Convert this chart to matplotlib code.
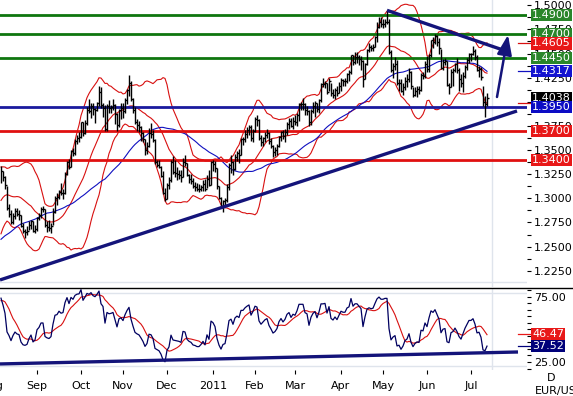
import numpy as np
import pandas as pd
import matplotlib
matplotlib.use("Agg")
import matplotlib.pyplot as plt
from matplotlib import transforms
from matplotlib.lines import Line2D

# ---- EUR/USD daily data ----
# closes before the visible window (indicator warm-up only), from 2010-05-20
warmup_close = [1.2560, 1.2570, 1.2370, 1.2360, 1.2200, 1.2370, 1.2270, 1.2300,
                1.2230, 1.2230, 1.2160, 1.1970, 1.1920, 1.1980, 1.2000, 1.2100, 1.2110, 1.2280, 1.2330,
                1.2340, 1.2390, 1.2380, 1.2290, 1.2270, 1.2300, 1.2320, 1.2380, 1.2260, 1.2190, 1.2230,
                1.2520, 1.2570, 1.2560, 1.2630, 1.2620, 1.2700, 1.2640, 1.2610, 1.2730, 1.2750, 1.2940,
                1.2940, 1.2940, 1.2890, 1.2780, 1.2900, 1.2920, 1.2990, 1.3000, 1.3030, 1.3060, 1.3050,
                1.3190, 1.3230, 1.3150, 1.3190]

# visible bars, 2010-08-06 .. 2011-07-13
high = [
    # Aug
    1.3333, 1.3280, 1.3230, 1.3130, 1.2940, 1.2880, 1.2850, 1.2900, 1.2900, 1.2880, 1.2830, 1.2740,
    1.2680, 1.2710, 1.2760, 1.2780, 1.2770, 1.2720,
    # Sep
    1.2810, 1.2850, 1.2910, 1.2920, 1.2890, 1.2770, 1.2780, 1.2740, 1.2900, 1.3020, 1.3050, 1.3090,
    1.3160, 1.3100, 1.3270, 1.3390, 1.3410, 1.3500, 1.3520, 1.3610, 1.3660, 1.3690,
    # Oct
    1.3790, 1.3790, 1.3810, 1.3950, 1.4030, 1.3990, 1.3990, 1.3940, 1.4000, 1.4160, 1.4150, 1.3990,
    1.3970, 1.3980, 1.4020, 1.3970, 1.4030, 1.3980, 1.3880, 1.3930, 1.3990,
    # Nov
    1.3990, 1.4040, 1.4130, 1.4280, 1.4220, 1.4040, 1.3950, 1.3820, 1.3800, 1.3750, 1.3690, 1.3610,
    1.3580, 1.3730, 1.3780, 1.3710, 1.3610, 1.3400, 1.3400, 1.3330, 1.3280, 1.3110,
    # Dec
    1.3160, 1.3220, 1.3400, 1.3440, 1.3400, 1.3320, 1.3290, 1.3290, 1.3420, 1.3450, 1.3370, 1.3250,
    1.3250, 1.3210, 1.3170, 1.3160, 1.3150, 1.3140, 1.3190, 1.3200, 1.3240, 1.3290, 1.3390,
    # Jan
    1.3400, 1.3390, 1.3310, 1.3130, 1.3010, 1.2980, 1.3000, 1.3150, 1.3370, 1.3450, 1.3390, 1.3460,
    1.3490, 1.3510, 1.3630, 1.3640, 1.3710, 1.3740, 1.3760, 1.3760, 1.3720,
    # Feb
    1.3840, 1.3860, 1.3820, 1.3660, 1.3640, 1.3690, 1.3720, 1.3690, 1.3630, 1.3550, 1.3530, 1.3560,
    1.3650, 1.3700, 1.3710, 1.3720, 1.3790, 1.3830, 1.3830, 1.3840,
    # Mar
    1.3860, 1.3880, 1.3990, 1.4000, 1.4040, 1.3990, 1.3960, 1.3920, 1.3930, 1.4000, 1.4010, 1.3990,
    1.4030, 1.4190, 1.4250, 1.4220, 1.4200, 1.4250, 1.4200, 1.4130, 1.4140, 1.4160, 1.4210,
    # Apr
    1.4250, 1.4240, 1.4250, 1.4300, 1.4330, 1.4490, 1.4490, 1.4520, 1.4520, 1.4490, 1.4470, 1.4430,
    1.4400, 1.4550, 1.4610, 1.4590, 1.4600, 1.4680, 1.4830, 1.4880, 1.4880,
    # May
    1.4860, 1.4860, 1.4940, 1.4860, 1.4540, 1.4400, 1.4460, 1.4430, 1.4240, 1.4240, 1.4190, 1.4260,
    1.4290, 1.4350, 1.4320, 1.4150, 1.4150, 1.4160, 1.4160, 1.4300, 1.4310, 1.4420,
    # Jun
    1.4470, 1.4500, 1.4640, 1.4670, 1.4700, 1.4690, 1.4660, 1.4550, 1.4440, 1.4450, 1.4420, 1.4200,
    1.4340, 1.4350, 1.4400, 1.4450, 1.4350, 1.4290, 1.4310, 1.4380, 1.4450, 1.4510,
    # Jul
    1.4510, 1.4580, 1.4550, 1.4480, 1.4370, 1.4360, 1.4160, 1.4060, 1.4090,
]
low = [
    1.3160, 1.3180, 1.3100, 1.2880, 1.2810, 1.2730, 1.2730, 1.2790, 1.2820, 1.2780, 1.2700, 1.2640,
    1.2590, 1.2620, 1.2670, 1.2680, 1.2650, 1.2640,
    1.2660, 1.2780, 1.2800, 1.2860, 1.2700, 1.2650, 1.2660, 1.2640, 1.2720, 1.2850, 1.2930, 1.2990,
    1.3030, 1.2990, 1.3040, 1.3240, 1.3300, 1.3320, 1.3440, 1.3450, 1.3560, 1.3580,
    1.3630, 1.3650, 1.3670, 1.3760, 1.3880, 1.3830, 1.3860, 1.3780, 1.3900, 1.3960, 1.3940, 1.3840,
    1.3700, 1.3700, 1.3880, 1.3880, 1.3910, 1.3770, 1.3700, 1.3740, 1.3820,
    1.3830, 1.3880, 1.3980, 1.4060, 1.4010, 1.3880, 1.3770, 1.3700, 1.3690, 1.3590, 1.3580, 1.3450,
    1.3460, 1.3530, 1.3630, 1.3580, 1.3360, 1.3320, 1.3310, 1.3220, 1.3040, 1.2970,
    1.2990, 1.3100, 1.3170, 1.3250, 1.3220, 1.3190, 1.3200, 1.3170, 1.3220, 1.3340, 1.3230, 1.3160,
    1.3150, 1.3110, 1.3080, 1.3080, 1.3070, 1.3080, 1.3080, 1.3080, 1.3110, 1.3130, 1.3140,
    1.3280, 1.3270, 1.3100, 1.2990, 1.2900, 1.2860, 1.2920, 1.2960, 1.3090, 1.3260, 1.3240, 1.3290,
    1.3390, 1.3370, 1.3450, 1.3550, 1.3580, 1.3620, 1.3660, 1.3590, 1.3580,
    1.3690, 1.3750, 1.3600, 1.3540, 1.3540, 1.3580, 1.3620, 1.3560, 1.3520, 1.3430, 1.3440, 1.3450,
    1.3530, 1.3590, 1.3610, 1.3580, 1.3660, 1.3720, 1.3740, 1.3720,
    1.3760, 1.3750, 1.3800, 1.3910, 1.3920, 1.3860, 1.3860, 1.3750, 1.3760, 1.3880, 1.3840, 1.3890,
    1.3880, 1.4000, 1.4150, 1.4140, 1.4080, 1.4110, 1.4060, 1.4040, 1.4030, 1.4060, 1.4090,
    1.4110, 1.4160, 1.4160, 1.4190, 1.4220, 1.4290, 1.4380, 1.4390, 1.4400, 1.4380, 1.4330, 1.4150,
    1.4240, 1.4380, 1.4520, 1.4530, 1.4530, 1.4570, 1.4620, 1.4760, 1.4780,
    1.4770, 1.4780, 1.4810, 1.4500, 1.4310, 1.4250, 1.4330, 1.4170, 1.4110, 1.4100, 1.4070, 1.4120,
    1.4150, 1.4210, 1.4130, 1.4050, 1.4060, 1.4050, 1.4080, 1.4110, 1.4240, 1.4250,
    1.4310, 1.4310, 1.4460, 1.4560, 1.4600, 1.4580, 1.4500, 1.4340, 1.4330, 1.4380, 1.4160, 1.4080,
    1.4150, 1.4160, 1.4310, 1.4300, 1.4110, 1.4150, 1.4100, 1.4250, 1.4330, 1.4400,
    1.4420, 1.4480, 1.4430, 1.4320, 1.4260, 1.4230, 1.3960, 1.3840, 1.3960,
]
close = [
    1.3280, 1.3220, 1.3140, 1.2900, 1.2840, 1.2750, 1.2820, 1.2870, 1.2840, 1.2830, 1.2710, 1.2660,
    1.2650, 1.2660, 1.2720, 1.2760, 1.2660, 1.2680,
    1.2800, 1.2830, 1.2890, 1.2890, 1.2720, 1.2700, 1.2690, 1.2710, 1.2860, 1.3000, 1.3010, 1.3070,
    1.3050, 1.3060, 1.3250, 1.3380, 1.3320, 1.3490, 1.3470, 1.3590, 1.3630, 1.3640,
    1.3790, 1.3680, 1.3780, 1.3910, 1.3900, 1.3960, 1.3930, 1.3920, 1.3990, 1.4100, 1.3970, 1.3940,
    1.3720, 1.3960, 1.3940, 1.3950, 1.3970, 1.3870, 1.3760, 1.3920, 1.3940,
    1.3900, 1.4020, 1.4120, 1.4200, 1.4030, 1.3910, 1.3790, 1.3760, 1.3740, 1.3680, 1.3610, 1.3500,
    1.3540, 1.3680, 1.3670, 1.3600, 1.3380, 1.3350, 1.3320, 1.3230, 1.3060, 1.2990,
    1.3140, 1.3190, 1.3380, 1.3270, 1.3260, 1.3250, 1.3240, 1.3220, 1.3380, 1.3370, 1.3240, 1.3200,
    1.3180, 1.3130, 1.3120, 1.3100, 1.3100, 1.3120, 1.3150, 1.3100, 1.3200, 1.3140, 1.3380,
    1.3360, 1.3310, 1.3130, 1.3000, 1.2910, 1.2970, 1.2980, 1.3120, 1.3350, 1.3380, 1.3300, 1.3430,
    1.3470, 1.3450, 1.3610, 1.3610, 1.3670, 1.3710, 1.3740, 1.3620, 1.3700,
    1.3820, 1.3810, 1.3630, 1.3580, 1.3620, 1.3660, 1.3680, 1.3590, 1.3540, 1.3480, 1.3500, 1.3540,
    1.3640, 1.3690, 1.3650, 1.3690, 1.3770, 1.3800, 1.3750, 1.3800,
    1.3790, 1.3860, 1.3980, 1.3980, 1.3980, 1.3910, 1.3900, 1.3790, 1.3900, 1.3960, 1.3990, 1.3930,
    1.4020, 1.4180, 1.4180, 1.4190, 1.4100, 1.4220, 1.4090, 1.4070, 1.4120, 1.4090, 1.4160,
    1.4230, 1.4220, 1.4220, 1.4290, 1.4310, 1.4480, 1.4410, 1.4460, 1.4460, 1.4440, 1.4420, 1.4240,
    1.4390, 1.4540, 1.4570, 1.4560, 1.4570, 1.4670, 1.4780, 1.4830, 1.4810,
    1.4810, 1.4830, 1.4830, 1.4520, 1.4330, 1.4370, 1.4390, 1.4190, 1.4200, 1.4110, 1.4150, 1.4220,
    1.4240, 1.4310, 1.4160, 1.4070, 1.4110, 1.4130, 1.4120, 1.4280, 1.4270, 1.4390,
    1.4340, 1.4490, 1.4640, 1.4620, 1.4680, 1.4620, 1.4560, 1.4350, 1.4410, 1.4420, 1.4170, 1.4150,
    1.4310, 1.4330, 1.4390, 1.4330, 1.4240, 1.4190, 1.4270, 1.4360, 1.4430, 1.4500,
    1.4500, 1.4530, 1.4460, 1.4330, 1.4340, 1.4260, 1.4000, 1.3980, 1.4038,
]

# analyst levels / lines
green_levels = [1.4900, 1.4700, 1.4450]
red_levels = [1.3700, 1.3400]
blue_levels = [1.3950]
support_x = [-0.5, 258.0]
support_y = [1.2154, 1.3905]
resist_x = [193.0, 251.0]
resist_y = [1.4948, 1.4537]
arrow_from = (248.0, 1.4050)
arrow_to = (253.5, 1.4693)
rsi_support_x = [-0.5, 258.5]
rsi_support_y = [23.5, 32.7]

# right-hand value tags
tag_values = [1.4900, 1.4700, 1.4605, 1.4450, 1.4317, 1.4038, 1.3950, 1.3700, 1.3400]
tag_colors = ["#2a862a", "#2a862a", "#e81818", "#2a862a", "#1414d0", "black", "#0c0cc4",
              "#e81818", "#e81818"]
rsi_tag_values = [46.47, 37.52]
rsi_tag_colors = ["#e81818", "#00007a"]

# ---- indicators ----
n_warm = len(warmup_close)
dates = pd.bdate_range("2010-05-20", periods=n_warm + len(close))
s = pd.Series(warmup_close + close, index=dates)
mid = s.rolling(20).mean()
sd = s.rolling(20).std(ddof=0)
upper = mid + 2 * sd
lower = mid - 2 * sd
ma50 = s.rolling(50).mean()

delta = s.diff()
gain = delta.clip(lower=0).ewm(alpha=1 / 14, adjust=False).mean()
loss = (-delta.clip(upper=0)).ewm(alpha=1 / 14, adjust=False).mean()
rsi = 100 - 100 / (1 + gain / loss)
rsi_ma = rsi.rolling(9).mean()

x = np.arange(len(close))
vis = slice(n_warm, None)

# ---- figure ----
W, H = 573, 396
fig = plt.figure(figsize=(W / 100, H / 100), dpi=100)
ax = fig.add_axes([0, 109 / H, 527 / W, 287 / H])
axr = fig.add_axes([0, 26 / H, 527 / W, 82 / H], sharex=ax)

navy = "#14147a"
red = "#d81010"
light = "#dfe4ec"

# bands + MA
ax.plot(x, upper.values[vis], color=red, lw=0.8, zorder=1)
ax.plot(x, mid.values[vis], color=red, lw=0.8, zorder=1)
ax.plot(x, lower.values[vis], color=red, lw=0.8, zorder=1)
ax.plot(x, ma50.values[vis], color="#1010c0", lw=0.8, zorder=1)

for lv in green_levels:
    ax.axhline(lv, color="#0e760e", lw=2.0, zorder=2)
for lv in red_levels:
    ax.axhline(lv, color="#e01010", lw=2.0, zorder=2)
for lv in blue_levels:
    ax.axhline(lv, color="#1a1a9e", lw=2.0, zorder=2)

# HLC bars
ax.vlines(x, low, high, color="black", lw=1.0, zorder=3)
ax.hlines(close, x, x + 0.8, color="black", lw=1.0, zorder=3)

# trend lines + arrow
ax.plot(support_x, support_y, color=navy, lw=2.4, zorder=4, solid_capstyle="butt")
ax.plot(resist_x, resist_y, color=navy, lw=2.4, zorder=4, solid_capstyle="butt")
ax.annotate("", xy=arrow_to, xytext=arrow_from, zorder=4,
            arrowprops=dict(arrowstyle="-|>,head_length=1.2,head_width=0.45",
                            color=navy, lw=1.8, mutation_scale=10, shrinkA=0, shrinkB=0))

ax.axvline(x[-1] + 2.5, color=light, lw=1, zorder=0)
ax.plot([0, 1], [5 / 287] * 2, transform=ax.transAxes, color=light, lw=1, zorder=0)

ax.set_xlim(-0.5, 263.0)
ax.set_ylim(1.2081, 1.5055)

# y axis on the right
ax.yaxis.tick_right()
major = np.arange(1.2250, 1.50001, 0.025)
ax.set_yticks(major)
ax.set_yticklabels([f"{v:.4f}" for v in major])
ax.set_yticks(major[:-1] + 0.0125, minor=True)
ax.tick_params(axis="y", which="both", direction="out", length=3, width=0.8,
               labelsize=8, pad=2)
ax.tick_params(axis="x", bottom=False, labelbottom=False)
for sp in ax.spines.values():
    sp.set_visible(False)

tr = transforms.blended_transform_factory(ax.transAxes, ax.transData)
for v, c in zip(tag_values, tag_colors):
    ax.text(1.0095, v, f"{v:.4f}", transform=tr, ha="left", va="center", fontsize=8,
            color="white", clip_on=False, zorder=10,
            bbox=dict(boxstyle="square,pad=0.1", fc=c, ec="none"))
# short price markers left of the tags
ax.plot([258.5, 264.5], [tag_values[2]] * 2, color=red, lw=0.9, clip_on=False)
ax.plot([258.5, 264.5], [tag_values[4]] * 2, color="#1010c0", lw=0.9, clip_on=False)
ax.plot([258.5, 264.5], [lower.values[-1]] * 2, color=red, lw=0.9, clip_on=False)

# ---- RSI panel ----
axr.plot(x, rsi_ma.values[vis], color=red, lw=0.8, zorder=2)
axr.plot(x, rsi.values[vis], color="#000060", lw=0.9, zorder=3)
axr.plot(rsi_support_x, rsi_support_y, color=navy, lw=2.4, zorder=4, solid_capstyle="butt")
axr.axvline(x[-1] + 2.5, color=light, lw=1, zorder=0)
for yy in (1 - 5 / 82, 4 / 82):
    axr.plot([0, 1], [yy] * 2, transform=axr.transAxes, color=light, lw=1, zorder=0)
axr.text(457, 62, "RSI", fontsize=9, fontweight="bold", color="#2f4040", ha="center",
         va="center")
axr.set_ylim(18.85, 81.9)
axr.yaxis.tick_right()
axr.set_yticks([25, 75])
axr.set_yticklabels(["25.00", "75.00"])
axr.set_yticks(np.arange(20, 81, 5), minor=True)
axr.tick_params(axis="y", which="both", direction="out", length=3, width=0.8,
                labelsize=8, pad=2)
for sp in axr.spines.values():
    sp.set_visible(False)

trr = transforms.blended_transform_factory(axr.transAxes, axr.transData)
for v, c in zip(rsi_tag_values, rsi_tag_colors):
    axr.text(1.0095, v, f"{v:.2f}", transform=trr, ha="left", va="center", fontsize=8,
             color="white", clip_on=False, zorder=10,
             bbox=dict(boxstyle="square,pad=0.1", fc=c, ec="none"))
    axr.plot([258.5, 264.5], [v] * 2, color=c, lw=0.9, clip_on=False)

# month ticks / labels
month_pos = []
month_lab = []
prev = None
for i, d in enumerate(dates):
    if prev is not None and d.month != prev:
        month_pos.append(i - n_warm)
        month_lab.append("2011" if d.month == 1 else d.strftime("%b"))
    prev = d.month
vis_ticks = [p for p in month_pos if p >= 0]
axr.set_xticks(vis_ticks)
axr.tick_params(axis="x", direction="out", length=3, width=0.8, labelbottom=False, pad=1)
trx = transforms.blended_transform_factory(axr.transData, axr.transAxes)
for p, lab in zip(month_pos, month_lab):
    if p > -10:
        axr.text(p, -0.2, lab, transform=trx, ha="center", va="center", fontsize=8,
                 clip_on=False)

# panel separator
fig.add_artist(Line2D([0, 1], [109 / H - 0.5 / H] * 2, transform=fig.transFigure,
                      color="black", lw=1))

fig.text(551 / W, 1 - 378 / H, "D", fontsize=8, ha="center", va="center")
fig.text(535 / W, 1 - 391 / H, "EUR/USD", fontsize=8, ha="left", va="center")

fig.savefig("out.png", dpi=100)
